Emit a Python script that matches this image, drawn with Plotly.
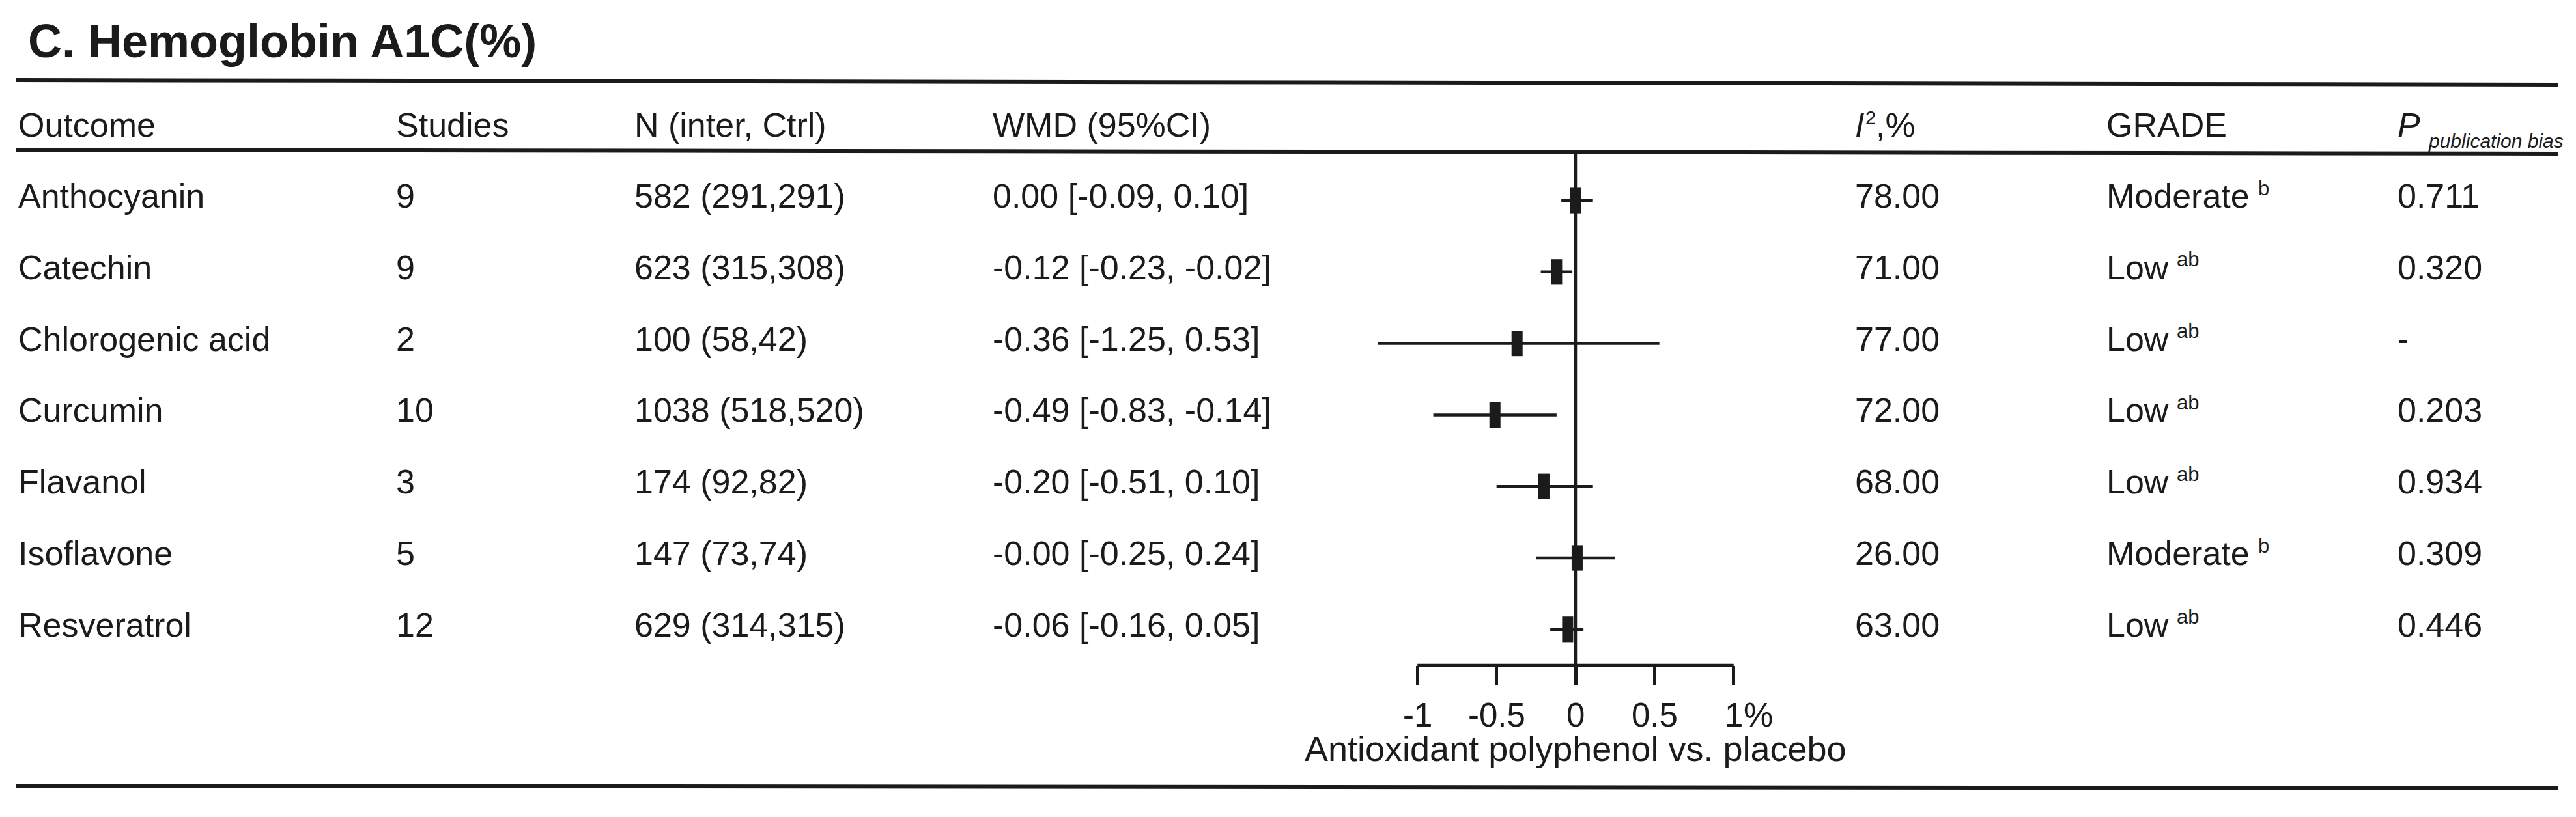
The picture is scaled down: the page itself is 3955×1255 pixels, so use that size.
import plotly.graph_objects as go

# ---------------- data ----------------
title = "C. Hemoglobin A1C(%)"
outcomes = ["Anthocyanin", "Catechin", "Chlorogenic acid", "Curcumin",
            "Flavanol", "Isoflavone", "Resveratrol"]
studies = [9, 9, 2, 10, 3, 5, 12]
n_total = [582, 623, 100, 1038, 174, 147, 629]
n_inter = [291, 315, 58, 518, 92, 73, 314]
n_ctrl = [291, 308, 42, 520, 82, 74, 315]
# WMD as printed in the table
wmd = [0.00, -0.12, -0.36, -0.49, -0.20, -0.0, -0.06]
wmd_low = [-0.09, -0.23, -1.25, -0.83, -0.51, -0.25, -0.16]
wmd_high = [0.10, -0.02, 0.53, -0.14, 0.10, 0.24, 0.05]
# point estimates / CI as drawn in the forest plot
plot_est = [0.00, -0.12, -0.37, -0.51, -0.20, 0.01, -0.05]
plot_low = [-0.09, -0.22, -1.25, -0.90, -0.50, -0.25, -0.16]
plot_high = [0.11, -0.02, 0.53, -0.12, 0.11, 0.25, 0.05]
i2 = [78, 71, 77, 72, 68, 26, 63]
grade = ["Moderate", "Low", "Low", "Low", "Low", "Moderate", "Low"]
grade_sup = ["b", "ab", "ab", "ab", "ab", "b", "ab"]
p_bias = ["0.711", "0.320", "-", "0.203", "0.934", "0.309", "0.446"]
headers = ["Outcome", "Studies", "N (inter, Ctrl)", "WMD (95%CI)", None, "GRADE", "<i>P</i>"]
i2_parts = ["<i>I</i>", "2", ",%"]
p_sub = "publication bias"
ticks = [-1, -0.5, 0, 0.5, 1]
tick_labels = ["-1", "-0.5", "0", "0.5", "1"]
tick_unit = "%"
axis_title = "Antioxidant polyphenol vs. placebo"

# ---------------- layout constants ----------------
W, H = 3955, 1255
FONT = "Liberation Sans, Arial, sans-serif"
INK = "#1b1b1b"
FS = 52
SUP = 31

# Liberation Sans / Arial advance widths (em) for letters used in GRADE words
ADV = {"M": .833, "o": .556, "d": .556, "e": .556, "r": .333, "a": .556,
       "t": .278, "L": .556, "w": .722}

def text_w(s, size):
    return sum(ADV.get(c, .556) for c in s) * size

def px_x(p):
    return p / W

def px_y(p):
    return 1 - p / H

col_x = [18, 598, 964, 1514, 2838, 3224, 3671]
zero_px, unit_px = 2411.0, 242.7
x_range = [-1.5, 1.5]
x_dom = [px_x(zero_px + x_range[0] * unit_px), px_x(zero_px + x_range[1] * unit_px)]
row0_px, row_step = 300.0, 109.8
plot_top_px, plot_bot_px = 225.0, 1014.0
y_top = (plot_top_px - row0_px) / row_step
y_bot = (plot_bot_px - row0_px) / row_step
ROW_SHIFT = 7

rows = list(range(len(outcomes)))

fig = go.Figure()

# CI lines + rectangular point markers
fig.add_trace(go.Scatter(
    x=plot_est, y=rows, mode="markers",
    marker=dict(symbol="line-ns", size=28, color=INK,
                line=dict(width=17, color=INK)),
    error_x=dict(type="data", symmetric=False,
                 array=[h - e for h, e in zip(plot_high, plot_est)],
                 arrayminus=[e - l for e, l in zip(plot_est, plot_low)],
                 thickness=4.5, width=0, color=INK),
    hoverinfo="skip", showlegend=False, cliponaxis=False,
))

shapes = []
# reference (zero) line
shapes.append(dict(type="line", xref="x", yref="y domain", x0=0, x1=0, y0=0, y1=1,
                   line=dict(color=INK, width=4.5)))
# axis baseline between the extreme ticks
shapes.append(dict(type="line", xref="x", yref="y domain", x0=min(ticks), x1=max(ticks),
                   y0=0, y1=0, line=dict(color=INK, width=4.5)))
# table rules (slightly tilted as in the scanned reference)
for yl, yr in [(115, 122), (222, 228), (1199, 1203)]:
    shapes.append(dict(type="line", xref="paper", yref="paper",
                       x0=px_x(17), x1=px_x(3920), y0=px_y(yl), y1=px_y(yr),
                       line=dict(color=INK, width=6)))

ann = []
def text(x, y, s, size=FS, yref="paper", yshift=0, xref="paper", xanchor="left", xshift=0):
    ann.append(dict(x=x, y=y, xref=xref, yref=yref, text=s, showarrow=False,
                    xanchor=xanchor, yanchor="middle", yshift=yshift, xshift=xshift,
                    font=dict(family=FONT, size=size, color=INK)))

# title
text(px_x(33), px_y(55), f"<b>{title}</b>", size=72)
# headers
for cx, h in zip(col_x, headers):
    if h is not None:
        text(px_x(cx), px_y(184), h)
# I^2,% header built from pieces
text(px_x(col_x[4]), px_y(184), i2_parts[0])
text(px_x(col_x[4] + 16), px_y(173), i2_parts[1], size=SUP - 2)
text(px_x(col_x[4] + 32), px_y(184), i2_parts[2])
text(px_x(3718), px_y(208), f"<i>{p_sub}</i>", size=30)

# table body
for i in rows:
    cells = [
        outcomes[i],
        str(studies[i]),
        f"{n_total[i]} ({n_inter[i]},{n_ctrl[i]})",
        f"{wmd[i]:.2f} [{wmd_low[i]:.2f}, {wmd_high[i]:.2f}]",
        f"{i2[i]:.2f}",
        grade[i],
        p_bias[i],
    ]
    for cx, c in zip(col_x, cells):
        text(px_x(cx), i, c, yref="y", yshift=ROW_SHIFT)
    # superscript GRADE footnote letters
    sx = col_x[5] + text_w(grade[i], FS) + 13
    text(px_x(sx), i, grade_sup[i], size=SUP, yref="y", yshift=ROW_SHIFT + 12)

# tick labels, placed through the x scale
for t, lab in zip(ticks, tick_labels):
    text(t, px_y(1090), lab, size=51, xref="x", xanchor="center")
# unit after the last tick label
text(max(ticks), px_y(1090), tick_unit, size=51, xref="x", xshift=13)
# axis title
text(0, px_y(1142), axis_title, size=54, xref="x", xanchor="center")

fig.update_layout(
    width=W, height=H,
    margin=dict(l=0, r=0, t=0, b=0),
    paper_bgcolor="white", plot_bgcolor="rgba(0,0,0,0)",
    shapes=shapes, annotations=ann, showlegend=False,
    xaxis=dict(domain=x_dom, range=x_range, showgrid=False, zeroline=False,
               showline=False, ticks="outside", ticklen=30, tickwidth=4.5,
               tickcolor=INK, tickvals=ticks, showticklabels=False, fixedrange=True),
    yaxis=dict(domain=[px_y(plot_bot_px), px_y(plot_top_px)], range=[y_bot, y_top],
               visible=False, fixedrange=True),
)

fig.write_html("out.html")
